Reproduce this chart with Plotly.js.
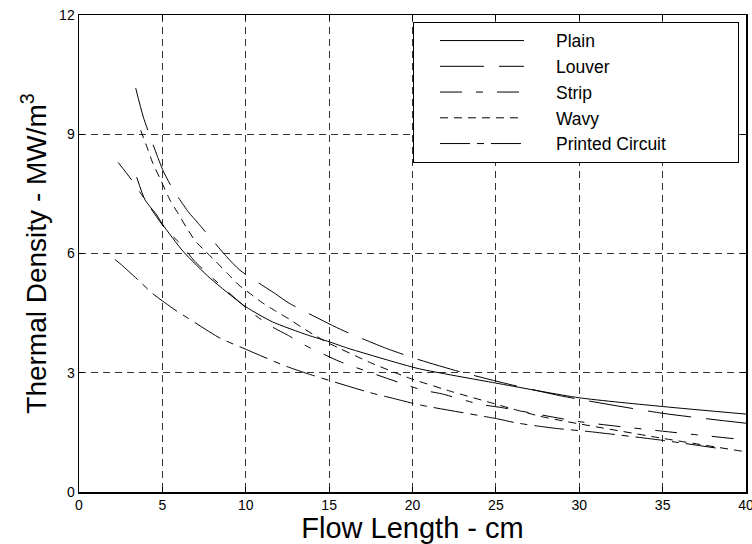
<!DOCTYPE html>
<html>
<head>
<meta charset="utf-8">
<script src="https://cdn.plot.ly/plotly-3.0.1.min.js"></script>
<style>html,body{margin:0;padding:0;background:#fff;}#chart{width:752px;height:544px;}</style>
</head>
<body>
<div id="chart"></div>
<script>
// Flow length (cm) and thermal density (MW/m^3)
var plainX = [3.46, 3.96, 4.66, 5.0, 6.25, 7.86, 10, 11.6, 13.7, 15, 16.1, 18.5, 20.4, 25, 30, 35, 40];
var plainY = [7.92, 7.35, 6.97, 6.74, 6.05, 5.38, 4.66, 4.28, 3.95, 3.78, 3.62, 3.32, 3.1, 2.74, 2.37, 2.15, 1.96];

var louverX = [3.4, 3.86, 4.75, 5.1, 5.66, 6.55, 7.15, 8.85, 9.65, 11.8, 12.6, 15, 15.9, 18.45, 20.45, 22.8, 25.4, 29, 35, 40];
var louverY = [10.16, 9.43, 8.39, 8.03, 7.6, 7.05, 6.76, 5.92, 5.58, 4.98, 4.75, 4.23, 4.05, 3.61, 3.32, 3.03, 2.75, 2.41, 1.98, 1.73];

var stripX = [2.35, 3.16, 3.96, 5.16, 6.16, 6.95, 10.4, 11.6, 12.5, 13.65, 14.75, 15.65, 20.55, 21.75, 24, 25.4, 30, 35, 40];
var stripY = [8.29, 7.85, 7.35, 6.63, 6.21, 5.8, 4.5, 4.15, 3.95, 3.67, 3.45, 3.28, 2.57, 2.47, 2.21, 2.12, 1.77, 1.53, 1.31];

var wavyX = [3.7, 4.1, 4.4, 4.9, 5.45, 5.95, 6.45, 7.0, 7.6, 8.2, 8.9, 9.6, 10.3, 11.0, 11.8, 12.6, 13.4, 14.1, 15, 17.5, 19.85, 22.4, 24.5, 26, 27.6, 29, 35, 40];
var wavyY = [9.1, 8.65, 8.3, 7.85, 7.35, 7.0, 6.65, 6.3, 6.05, 5.8, 5.5, 5.2, 4.98, 4.76, 4.55, 4.35, 4.13, 3.95, 3.74, 3.25, 2.86, 2.52, 2.27, 2.09, 1.91, 1.79, 1.35, 1.01];

var pcX = [2.16, 2.56, 3.66, 4.36, 5.76, 6.55, 8.46, 9.95, 12.25, 13.25, 13.75, 17.45, 18.8, 20.45, 25.1, 26.2, 27.5, 28.6, 30.6, 35, 38.3];
var pcY = [5.85, 5.71, 5.29, 5.01, 4.58, 4.37, 3.87, 3.6, 3.19, 3.04, 2.97, 2.5, 2.36, 2.19, 1.84, 1.74, 1.66, 1.6, 1.52, 1.3, 1.1];

var seriesNames = ['Plain', 'Louver', 'Strip', 'Wavy', 'Printed Circuit'];
var xTicks = [0, 5, 10, 15, 20, 25, 30, 35, 40];
var yTicks = [0, 3, 6, 9, 12];

var dashes = ['solid', '44px,15px', '22px,14px,7px,14px', '8px,6px', '30px,7px,7px,7px'];
var xs = [plainX, louverX, stripX, wavyX, pcX];
var ys = [plainY, louverY, stripY, wavyY, pcY];

var traces = seriesNames.map(function (n, i) {
  return {
    x: xs[i], y: ys[i], name: n, type: 'scatter', mode: 'lines',
    line: {color: '#000', width: 1, dash: dashes[i], shape: 'spline', smoothing: 0.6}
  };
});

var font = 'Arial, "Liberation Sans", sans-serif';
var layout = {
  width: 752, height: 544,
  margin: {l: 79, r: 6, t: 15, b: 52},
  paper_bgcolor: '#fff', plot_bgcolor: '#fff',
  font: {family: font, color: '#000'},
  showlegend: true,
  legend: {
    x: 0.5007, xanchor: 'left', y: 0.986, yanchor: 'top',
    bgcolor: '#fff', bordercolor: '#000', borderwidth: 1,
    font: {family: font, size: 17.5, color: '#000'},
    itemwidth: 132, tracegroupgap: 0
  },
  xaxis: {
    range: [0, 40], tickvals: xTicks, ticktext: xTicks.map(String),
    ticks: 'inside', ticklen: 5, tickcolor: '#000', mirror: 'ticks',
    showline: true, linecolor: '#000', linewidth: 1.5,
    showgrid: true, gridcolor: '#333', griddash: '7px,5px', gridwidth: 1,
    zeroline: false, ticklabeloverflow: 'allow',
    tickfont: {family: font, size: 14, color: '#000'},
    title: {text: 'Flow Length - cm', font: {family: font, size: 29, color: '#000'}, standoff: 0}
  },
  yaxis: {
    range: [0, 12], tickvals: yTicks, ticktext: yTicks.map(String),
    ticks: 'inside', ticklen: 5, tickcolor: '#000', mirror: 'ticks',
    showline: true, linecolor: '#000', linewidth: 1.5,
    showgrid: true, gridcolor: '#333', griddash: '7px,5px', gridwidth: 1,
    zeroline: false, tickfont: {family: font, size: 14, color: '#000'},
    title: {text: 'Thermal Density - MW/m<sup>3</sup>', font: {family: font, size: 28, color: '#000'}, standoff: 4}
  }
};

Plotly.newPlot('chart', traces, layout, {displayModeBar: false, staticPlot: true}).then(function (gd) {
  // lengthen legend line samples and widen the legend box to match the reference
  gd.querySelectorAll('.legend .legendlines path').forEach(function (p) {
    p.setAttribute('d', 'M26,0h84');
  });
  var bg = gd.querySelector('.legend .bg');
  if (bg) { bg.setAttribute('width', 325); }
});
</script>
</body>
</html>
